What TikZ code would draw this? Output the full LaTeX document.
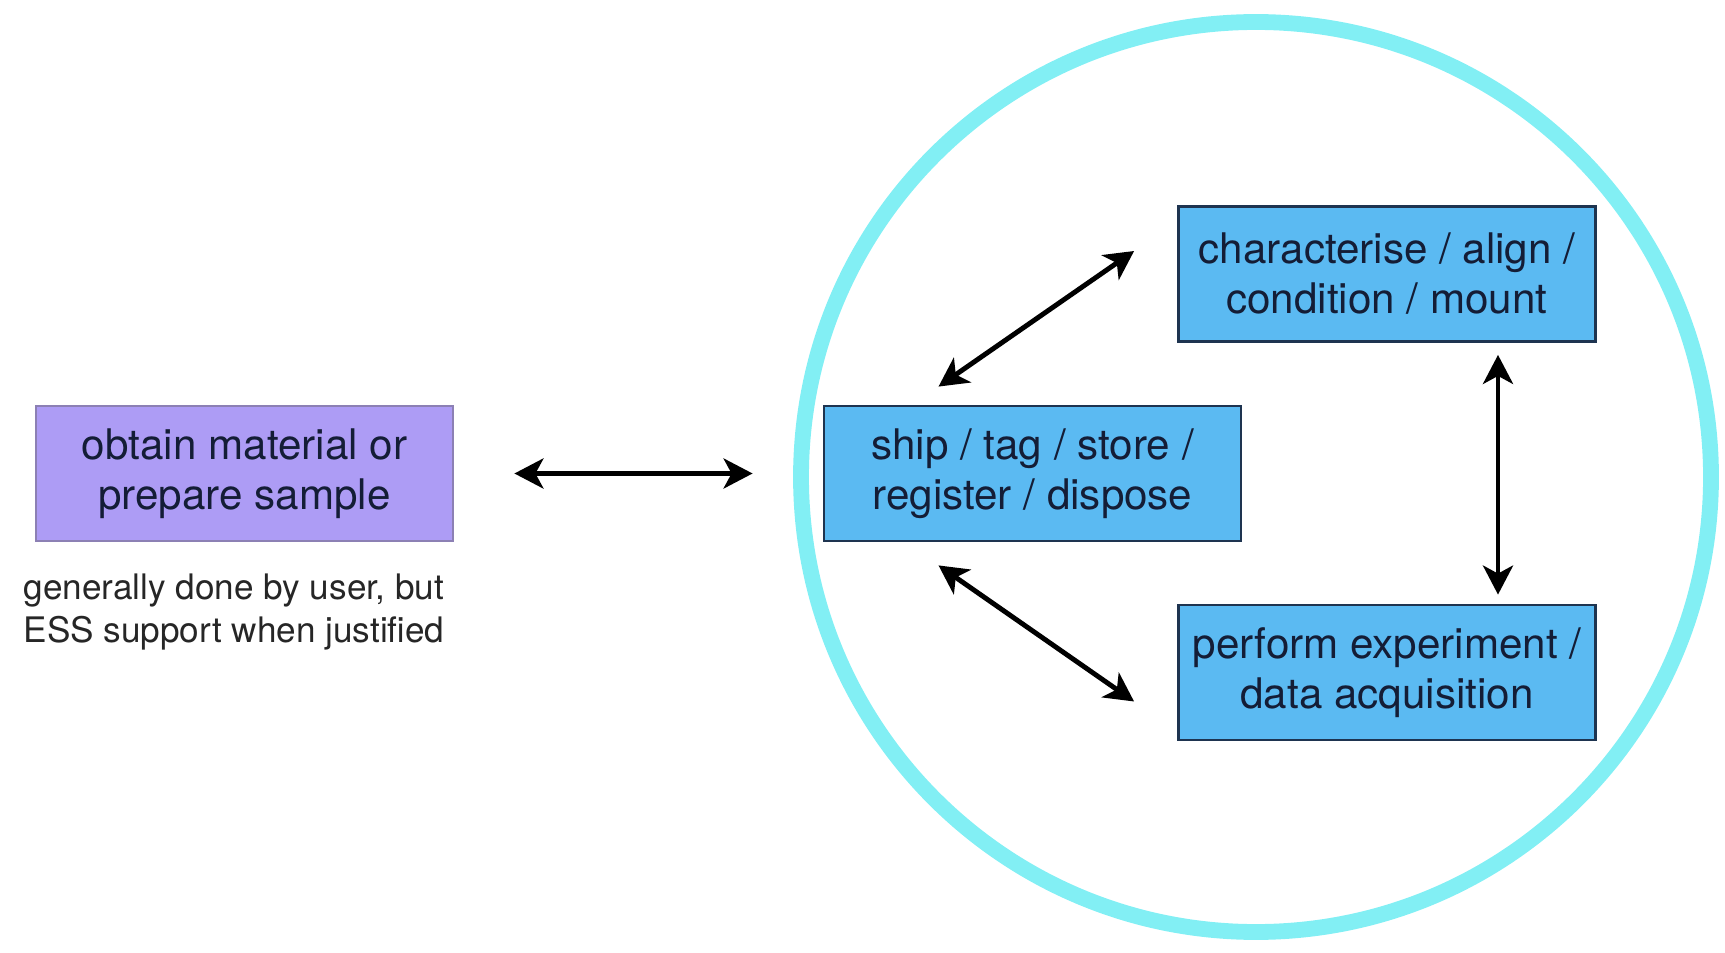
\documentclass[tikz,border=0pt]{standalone}
\usepackage{fontspec}
\setmainfont{TeX Gyre Heros}
\usetikzlibrary{arrows.meta}
\definecolor{purplefill}{HTML}{AD9CF5}
\definecolor{purpledraw}{HTML}{8C80B4}
\definecolor{bluefill}{HTML}{5BBAF2}
\definecolor{bluedraw}{HTML}{1E3450}
\definecolor{ringcol}{HTML}{82EFF4}
\definecolor{txtcol}{HTML}{141D36}
\tikzset{
  boxbase/.style={rectangle, minimum width=8.34cm, minimum height=2.7cm, inner sep=0pt,
    align=center, text=txtcol, font=\fontsize{24}{28.5}\selectfont, line width=1.6pt},
  purplebox/.style={boxbase, fill=purplefill, draw=purpledraw},
  bluebox/.style={boxbase, fill=bluefill, draw=bluedraw},
  notetext/.style={align=center, text=black!85, font=\fontsize{20}{24.5}\selectfont},
  ring/.style={draw=ringcol, line width=9pt},
  biarrow/.style={line width=2.8pt, {Stealth[length=0.58cm,width=0.6cm,inset=0.16cm]}-{Stealth[length=0.58cm,width=0.6cm,inset=0.16cm]}}
}
\begin{document}
\begin{tikzpicture}
\useasboundingbox (0,0) rectangle (34.5,-19.06);
\node[ring, circle, minimum size=18.2cm, inner sep=0pt] (ringc) at (25.12,-9.54) {};
\node[purplebox] (obtain) at (4.89,-9.47) {obtain material or\\prepare sample};
\node[notetext] (note) at (4.68,-12.24) {generally done by user, but\\ESS support when justified};
\node[bluebox] (ship) at (20.65,-9.47) {ship / tag / store /\\register / dispose};
\node[bluebox] (char) at (27.74,-5.48) {characterise / align /\\condition / mount};
\node[bluebox] (perf) at (27.74,-13.45) {perform experiment /\\data acquisition};
\draw[biarrow, shorten <=1.2cm, shorten >=1.4cm] (obtain.east) -- (ship.west);
\draw[biarrow] ([xshift=-1.88cm,yshift=0.36cm]ship.north) -- ([xshift=-0.86cm,yshift=0.46cm]char.west);
\draw[biarrow] ([xshift=-1.88cm,yshift=-0.46cm]ship.south) -- ([xshift=-0.86cm,yshift=-0.58cm]perf.west);
\draw[biarrow] ([xshift=2.22cm,yshift=-0.24cm]char.south) -- ([xshift=2.22cm,yshift=0.18cm]perf.north);
\end{tikzpicture}
\end{document}
